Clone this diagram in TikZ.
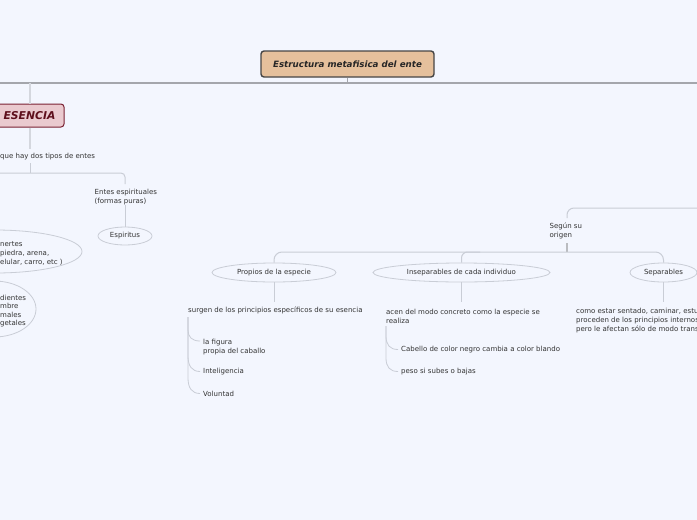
\documentclass[tikz,border=0pt]{standalone}
\usepackage{fontspec}
\setmainfont{DejaVu Sans}
\usetikzlibrary{shapes.geometric}
\definecolor{bg}{HTML}{F3F6FE}
\definecolor{txt}{HTML}{333333}
\definecolor{lgray}{HTML}{C9CDD6}
\definecolor{mgray}{HTML}{A4A6AC}
\definecolor{rootfill}{HTML}{E5C09C}
\definecolor{rootline}{HTML}{464646}
\definecolor{esfill}{HTML}{EACACF}
\definecolor{esline}{HTML}{7A2233}
\definecolor{estext}{HTML}{5E0F1C}
\tikzset{
  lbl/.style={font=\fontsize{7}{9}\selectfont, text=txt, inner sep=0pt, align=left},
  ell/.style={ellipse, draw=lgray, line width=0.8pt, inner sep=0pt, font=\fontsize{7}{9}\selectfont, text=txt},
  conn/.style={draw=lgray, line width=1pt},
  mainln/.style={draw=mgray, line width=1.4pt},
  rootbox/.style={draw=rootline, line width=1.4pt, fill=rootfill, rounded corners=3pt, minimum width=173pt, minimum height=26pt, inner sep=0pt, font=\fontsize{8.7}{10}\selectfont\bfseries\itshape, text=black!85},
  esbox/.style={draw=esline, line width=1pt, fill=esfill, rounded corners=3pt, minimum width=69pt, minimum height=23pt, inner sep=0pt, font=\fontsize{10.8}{12}\selectfont\bfseries\itshape, text=estext}
}
\begin{document}
\begin{tikzpicture}[x=1pt,y=-1pt]
\clip (0,0) rectangle (697,520);
\fill[bg] (0,0) rectangle (697,520);

% main line
\coordinate (hl) at (0,83);
\coordinate (hr) at (697,83);
\coordinate (hroot) at (347.5,83);
\coordinate (hes) at (30,83);
\draw[mainln] (hl) -- (hr);

\node[rootbox] (root) at (347.5,64) {Estructura metafisica del ente};
\draw[mainln] (root.south) -- (hroot);

% ESENCIA branch
\node[esbox] (es) at (29.5,115.5) {ESENCIA};
\draw[conn, draw=lgray!80, line width=1.8pt] (hes) -- (es.north -| hes);
\node[lbl, anchor=west] (dos) at (0,156.5) {que hay dos tipos de entes};
\coordinate (dosTop) at (30,149);
\coordinate (dosBot) at (30,163);
\draw[conn, draw=lgray!80, line width=1.8pt] (es.south -| hes) -- (dosTop);
\draw[conn] (dosBot) -- (30,173);
\coordinate (hl2) at (0,173);
\coordinate (espTop) at (125,184);
\draw[conn, rounded corners=4pt] (hl2) -- (125,173) -- (espTop);

\node[lbl, anchor=north west] (entesesp) at (94.5,188.5) {Entes espirituales\\(formas puras)};
\node[ell, minimum width=54pt, minimum height=18pt] (espiritus) at (125,236) {Espiritus};
\draw[conn] (125,205) -- (espiritus.north);

% left cut ellipses
\draw[lgray, line width=0.8pt] (-5,251.5) ellipse [x radius=87, y radius=21.5];
\node[lbl, anchor=north west] (inertes) at (0,241.5) {nertes\\piedra, arena,\\elular, carro, etc )};
\draw[lgray, line width=0.8pt] (-6,309) ellipse [x radius=42, y radius=28];
\node[lbl, anchor=north west, font=\fontsize{7}{8.5}\selectfont] (vivientes) at (0,294.5) {dientes\\mbre\\males\\getales};

% Segun su origen
\node[lbl, anchor=north west] (segun) at (549.5,223) {Según su\\origen};
\coordinate (sgTop) at (567,218);
\coordinate (sgR) at (697,208);
\draw[conn, rounded corners=7pt] (sgTop) -- (567,208) -- (sgR);
\coordinate (sgBot) at (567,243);
\coordinate (sgJ) at (567,252);
\draw[conn, line width=1.6pt, draw=lgray!70!black!60] (sgBot) -- (sgJ);

\node[ell, minimum width=124pt, minimum height=19pt] (propios) at (274,272.5) {Propios de la especie};
\node[ell, minimum width=177pt, minimum height=19pt] (insep) at (461.5,272.5) {Inseparables de cada individuo};
\node[ell, minimum width=67pt, minimum height=19pt] (separ) at (663.5,272.5) {Separables};

\draw[conn, rounded corners=8pt] (propios.north) -- (274,252) -- (663.5,252) -- (separ.north);
\draw[conn, rounded corners=6pt] (insep.north) -- (461.5,252) -- (480,252);

% Propios
\node[lbl, anchor=west] (surgen) at (188,310.5) {surgen de los principios específicos de su esencia};
\draw[conn] (propios.south) -- (274,302);
\node[lbl, anchor=north west] (figura) at (203,339) {la figura\\propia del caballo};
\node[lbl, anchor=west] (intel) at (203,371.5) {Inteligencia};
\node[lbl, anchor=west] (volun) at (203,393.5) {Voluntad};
\coordinate (pv) at (188,317);
\coordinate (fw) at (200,341);
\draw[conn, line width=0.8pt] (pv) -- (188,330) .. controls (188,337) and (192,341) .. (fw);
\draw[conn, line width=0.8pt] (pv) -- (188,356) .. controls (188,366) and (192,371.5) .. ([xshift=-3pt]intel.west);
\draw[conn, line width=0.8pt] (pv) -- (188,378) .. controls (188,388) and (192,393.5) .. ([xshift=-3pt]volun.west);

% Inseparables
\node[lbl, anchor=north west] (acen) at (386,309) {acen del modo concreto como la especie se\\realiza};
\draw[conn] (insep.south) -- (461.5,302);
\node[lbl, anchor=west] (cabello) at (401,349.5) {Cabello de color negro cambia a color blando};
\node[lbl, anchor=west] (peso) at (401,371.5) {peso si subes o bajas};
\coordinate (iv) at (386,326);
\draw[conn, line width=0.8pt] (iv) -- (386,336) .. controls (386,345) and (390,349.5) .. ([xshift=-3pt]cabello.west);
\draw[conn, line width=0.8pt] (iv) -- (386,358) .. controls (386,367) and (390,371.5) .. ([xshift=-3pt]peso.west);

% Separables
\draw[conn] (separ.south) -- (663.5,302);
\node[lbl, anchor=north west] (como) at (576,307.5) {como estar sentado, caminar, estu\\proceden de los principios internos\\pero le afectan sólo de modo trans};
\end{tikzpicture}
\end{document}
